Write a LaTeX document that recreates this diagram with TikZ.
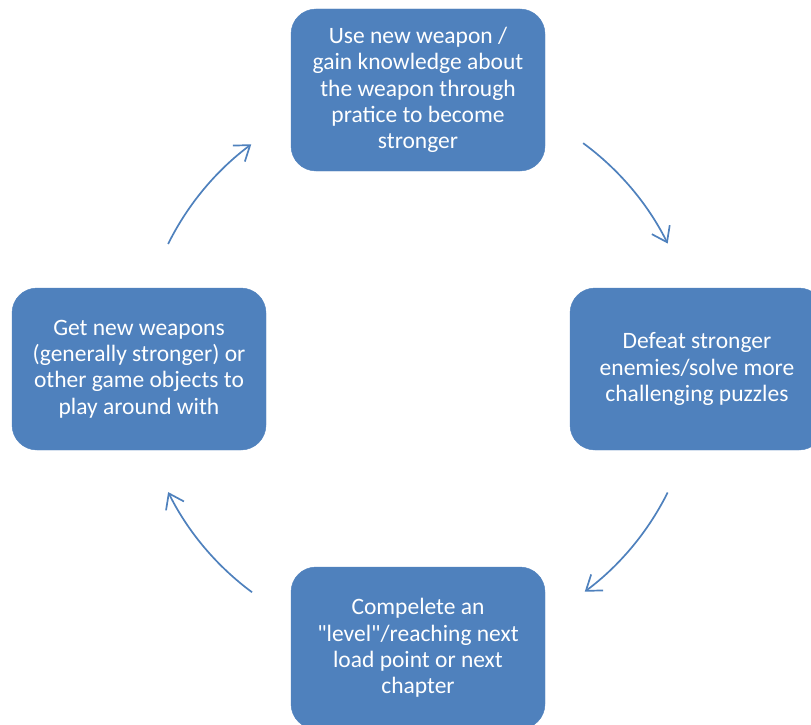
\documentclass[tikz,border=0pt]{standalone}
\usepackage{fontspec}
\setmainfont{Carlito}[Ligatures=TeXOff]
\usetikzlibrary{arrows.meta,calc}
\definecolor{boxblue}{HTML}{4F81BD}
\begin{document}
\begin{tikzpicture}[x=1pt,y=-1pt,
  stepbox/.style={draw=boxblue, fill=boxblue, rounded corners=25pt,
    minimum width=254pt, minimum height=162pt, inner sep=0pt,
    text=white, align=center, font=\fontsize{23.5pt}{26.3pt}\selectfont},
  cyc/.style={draw=boxblue, line width=1.7pt,
    -{Straight Barb[length=14pt,width=20pt,line width=1.7pt]}}]
\useasboundingbox (0,0) rectangle (811,725);
\node[stepbox] (top) at (418,90) {Use new weapon /\\gain knowledge about\\the weapon through\\pratice to become\\stronger};
\node[stepbox] (right) at (697,369) {Defeat stronger\\enemies/solve more\\challenging puzzles};
\node[stepbox] (bottom) at (418,648) {Compelete an\\"level"/reaching next\\load point or next\\chapter};
\node[stepbox] (left) at (139,369) {Get new weapons\\(generally stronger) or\\other game objects to\\play around with};
\coordinate (c) at (418,368);
\coordinate (a1) at ($(c)+(53.7:279pt)$);
\coordinate (b1) at ($(c)+(-26.5:279pt)$);
\coordinate (c1) at ($(c)+(233.5:279pt)$);
\coordinate (d1) at ($(c)+(153.6:279pt)$);
\draw[cyc] (a1) arc[start angle=53.7, end angle=26.5, radius=279pt];
\draw[cyc] (b1) arc[start angle=-26.5, end angle=-53.3, radius=279pt];
\draw[cyc] (c1) arc[start angle=233.5, end angle=206.4, radius=279pt];
\draw[cyc] (d1) arc[start angle=153.6, end angle=126.7, radius=279pt];
\end{tikzpicture}
\end{document}
